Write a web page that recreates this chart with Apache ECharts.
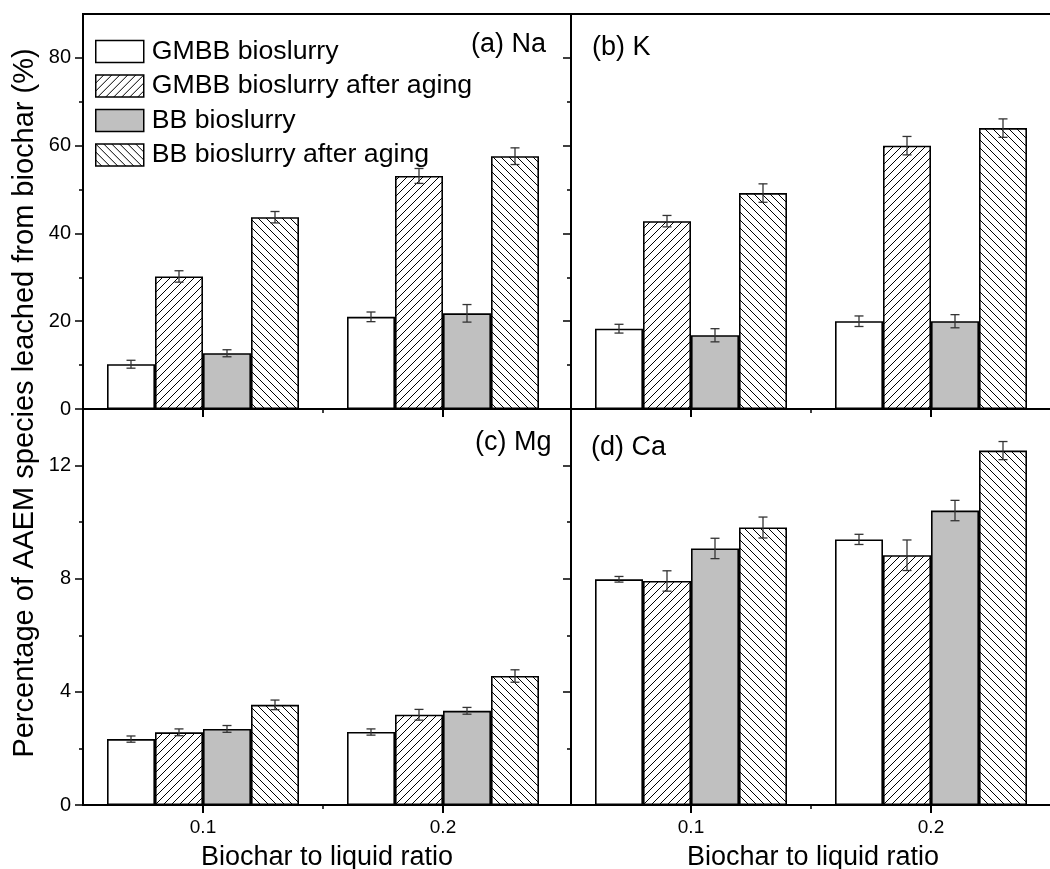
<!DOCTYPE html>
<html>
<head>
<meta charset="utf-8">
<script src="https://cdn.jsdelivr.net/npm/echarts@6/dist/echarts.min.js"></script>
<style>
  html, body { margin: 0; padding: 0; background: #fff; overflow: hidden; }
  #chart { width: 1050px; height: 869px; }
</style>
</head>
<body>
<div id="chart"></div>
<script>
// Biochar-to-liquid ratios on the x axis
const ratios = [0.1, 0.2];
const seriesNames = ['GMBB bioslurry', 'GMBB bioslurry after aging', 'BB bioslurry', 'BB bioslurry after aging'];

// Leached fraction (%) per series, one entry per ratio, with standard deviations
const naValues = [[10.2, 21.0], [30.2, 53.1], [12.7, 21.8], [43.7, 57.6]];
const naErrors = [[0.9, 1.1], [1.3, 1.7], [0.8, 2.0], [1.3, 1.9]];
const kValues  = [[18.3, 20.0], [42.8, 60.0], [16.8, 20.0], [49.2, 64.0]];
const kErrors  = [[1.0, 1.2], [1.3, 2.1], [1.5, 1.5], [2.1, 2.1]];
const mgValues = [[2.33, 2.58], [2.57, 3.19], [2.69, 3.33], [3.54, 4.56]];
const mgErrors = [[0.11, 0.11], [0.12, 0.19], [0.12, 0.12], [0.17, 0.22]];
const caValues = [[7.98, 9.39], [7.92, 8.83], [9.07, 10.41], [9.81, 12.53]];
const caErrors = [[0.10, 0.18], [0.36, 0.54], [0.36, 0.36], [0.37, 0.32]];

// Tick positions and labels
const xTicks = [0.1, 0.2];
const xMinorTicks = [0.15];
const upperTicks = [0, 20, 40, 60, 80];
const upperMinorTicks = [10, 30, 50, 70];
const lowerTicks = [0, 4, 8, 12];
const lowerMinorTicks = [2, 6, 10];
const panelTitles = ['(a) Na', '(b) K', '(c) Mg', '(d) Ca'];

const FONT = 'Liberation Sans, Arial, sans-serif';
const BAR_WIDTH = 48;

function hatch(dir) {
  const s = 8;
  const c = document.createElement('canvas');
  c.width = s; c.height = s;
  const g = c.getContext('2d');
  g.fillStyle = '#fff';
  g.fillRect(0, 0, s, s);
  g.strokeStyle = '#000';
  g.lineWidth = 1;
  g.beginPath();
  if (dir === '/') {
    g.moveTo(-1, s + 1); g.lineTo(s + 1, -1);
    g.moveTo(-1, 1); g.lineTo(1, -1);
    g.moveTo(s - 1, s + 1); g.lineTo(s + 1, s - 1);
  } else {
    g.moveTo(-1, -1); g.lineTo(s + 1, s + 1);
    g.moveTo(s - 1, -1); g.lineTo(s + 1, 1);
    g.moveTo(-1, s - 1); g.lineTo(1, s + 1);
  }
  g.stroke();
  return { image: c, repeat: 'repeat' };
}

const fills = ['#ffffff', hatch('/'), '#c0c0c0', hatch('\\')];

const panels = [
  { values: naValues, errors: naErrors, ticks: upperTicks, minor: upperMinorTicks, yMax: 90 },
  { values: kValues,  errors: kErrors,  ticks: upperTicks, minor: upperMinorTicks, yMax: 90 },
  { values: mgValues, errors: mgErrors, ticks: lowerTicks, minor: lowerMinorTicks, yMax: 14 },
  { values: caValues, errors: caErrors, ticks: lowerTicks, minor: lowerMinorTicks, yMax: 14 }
];

// right-hand panels run past the page edge, so their right border stays out of view
const grids = [
  { left: 83,  top: 14,  width: 488, height: 395 },
  { left: 571, top: 14,  width: 484, height: 395 },
  { left: 83,  top: 409, width: 488, height: 396 },
  { left: 571, top: 409, width: 484, height: 396 }
].map(g => Object.assign(g, {
  show: true, borderColor: '#000', borderWidth: 2, backgroundColor: 'transparent',
  containLabel: false, outerBoundsMode: 'none'
}));

const PX_PER_UNIT = 2400; // 0.1 ratio step = 240 px

const xAxes = [];
const yAxes = [];
const series = [];

panels.forEach((p, i) => {
  const left = i % 2 === 0;
  const bottom = i >= 2;
  const xMax = 0.05 + grids[i].width / PX_PER_UNIT;
  // main x axis with labelled ticks
  xAxes.push({
    type: 'value', gridIndex: i, position: 'bottom', min: 0.05, max: xMax,
    axisLine: { show: true, lineStyle: { color: '#000', width: 2 } },
    axisTick: { show: true, customValues: xTicks, length: 8, lineStyle: { color: '#000', width: 2 } },
    axisLabel: { show: bottom, customValues: xTicks, fontSize: 19, fontFamily: FONT, color: '#000', margin: 13 },
    splitLine: { show: false },
    name: bottom ? 'Biochar to liquid ratio' : '',
    nameLocation: 'middle', nameGap: 39,
    nameTextStyle: { fontSize: 27, fontFamily: FONT, color: '#000' }
  });
  // short tick between categories
  xAxes.push({
    type: 'value', gridIndex: i, position: 'bottom', min: 0.05, max: xMax,
    axisLine: { show: false },
    axisTick: { show: true, customValues: xMinorTicks, length: 4, lineStyle: { color: '#000', width: 1.5 } },
    axisLabel: { show: false },
    splitLine: { show: false }
  });
  yAxes.push({
    type: 'value', gridIndex: i, position: 'left', min: 0, max: p.yMax,
    axisLine: { show: true, lineStyle: { color: '#000', width: 2 } },
    axisTick: { show: true, customValues: p.ticks, length: 8, lineStyle: { color: '#000', width: 1.5 } },
    axisLabel: { show: left, customValues: p.ticks, fontSize: 20, fontFamily: FONT, color: '#000', margin: 12 },
    splitLine: { show: false }
  });
  yAxes.push({
    type: 'value', gridIndex: i, position: 'left', min: 0, max: p.yMax,
    axisLine: { show: false },
    axisTick: { show: true, customValues: p.minor, length: 4, lineStyle: { color: '#000', width: 1.5 } },
    axisLabel: { show: false },
    splitLine: { show: false }
  });

  const xIdx = i * 2;
  const yIdx = i * 2;
  const errData = [];
  p.values.forEach((vals, s) => {
    series.push({
      type: 'bar', name: seriesNames[s], xAxisIndex: xIdx, yAxisIndex: yIdx,
      barWidth: BAR_WIDTH, barGap: '0%',
      data: ratios.map((r, j) => [r, vals[j]]),
      itemStyle: { color: fills[s], borderColor: '#000', borderWidth: 1.6 },
      silent: true
    });
    ratios.forEach((r, j) => errData.push([r, vals[j], p.errors[s][j], s]));
  });
  series.push({
    type: 'custom', xAxisIndex: xIdx, yAxisIndex: yIdx, z: 10, silent: true,
    data: errData,
    renderItem: function (params, api) {
      const x = api.value(0), v = api.value(1), e = api.value(2), k = api.value(3);
      const cx = api.coord([x, v])[0] + (k - 1.5) * BAR_WIDTH;
      const yHi = api.coord([x, v + e])[1];
      const yLo = api.coord([x, v - e])[1];
      const cap = 4.5;
      const style = { stroke: '#333', lineWidth: 1.3 };
      return {
        type: 'group',
        children: [
          { type: 'line', shape: { x1: cx, y1: yHi, x2: cx, y2: yLo }, style: style },
          { type: 'line', shape: { x1: cx - cap, y1: yHi, x2: cx + cap, y2: yHi }, style: style },
          { type: 'line', shape: { x1: cx - cap, y1: yLo, x2: cx + cap, y2: yLo }, style: style }
        ]
      };
    }
  });
});

const titlePos = [[471, 31], [592, 34], [475, 429], [591, 434]];
const graphics = panelTitles.map((t, i) => ({
  type: 'text', x: titlePos[i][0], y: titlePos[i][1], silent: true,
  style: { text: t, fontSize: 27, fontFamily: FONT, fill: '#000', align: 'left', verticalAlign: 'top' }
}));
graphics.push({
  type: 'text', x: 25, y: 403, rotation: Math.PI / 2, silent: true,
  style: { text: 'Percentage of AAEM species leached from biochar (%)', fontSize: 29, fontFamily: FONT,
           fill: '#000', align: 'center', verticalAlign: 'middle' }
});

const chart = echarts.init(document.getElementById('chart'), null, { renderer: 'canvas' });
chart.setOption({
  animation: false,
  backgroundColor: '#fff',
  grid: grids,
  xAxis: xAxes,
  yAxis: yAxes,
  legend: {
    data: seriesNames.map(n => ({ name: n, icon: 'rect' })),
    orient: 'vertical', left: 90, top: 33, padding: 5,
    itemWidth: 48, itemHeight: 22, itemGap: 7.5, selectedMode: false,
    itemStyle: { borderColor: '#000', borderWidth: 1.5 },
    textStyle: { fontSize: 26.7, fontFamily: FONT, color: '#000', padding: [0, 0, 0, 3] }
  },
  graphic: graphics,
  series: series
});
</script>
</body>
</html>
